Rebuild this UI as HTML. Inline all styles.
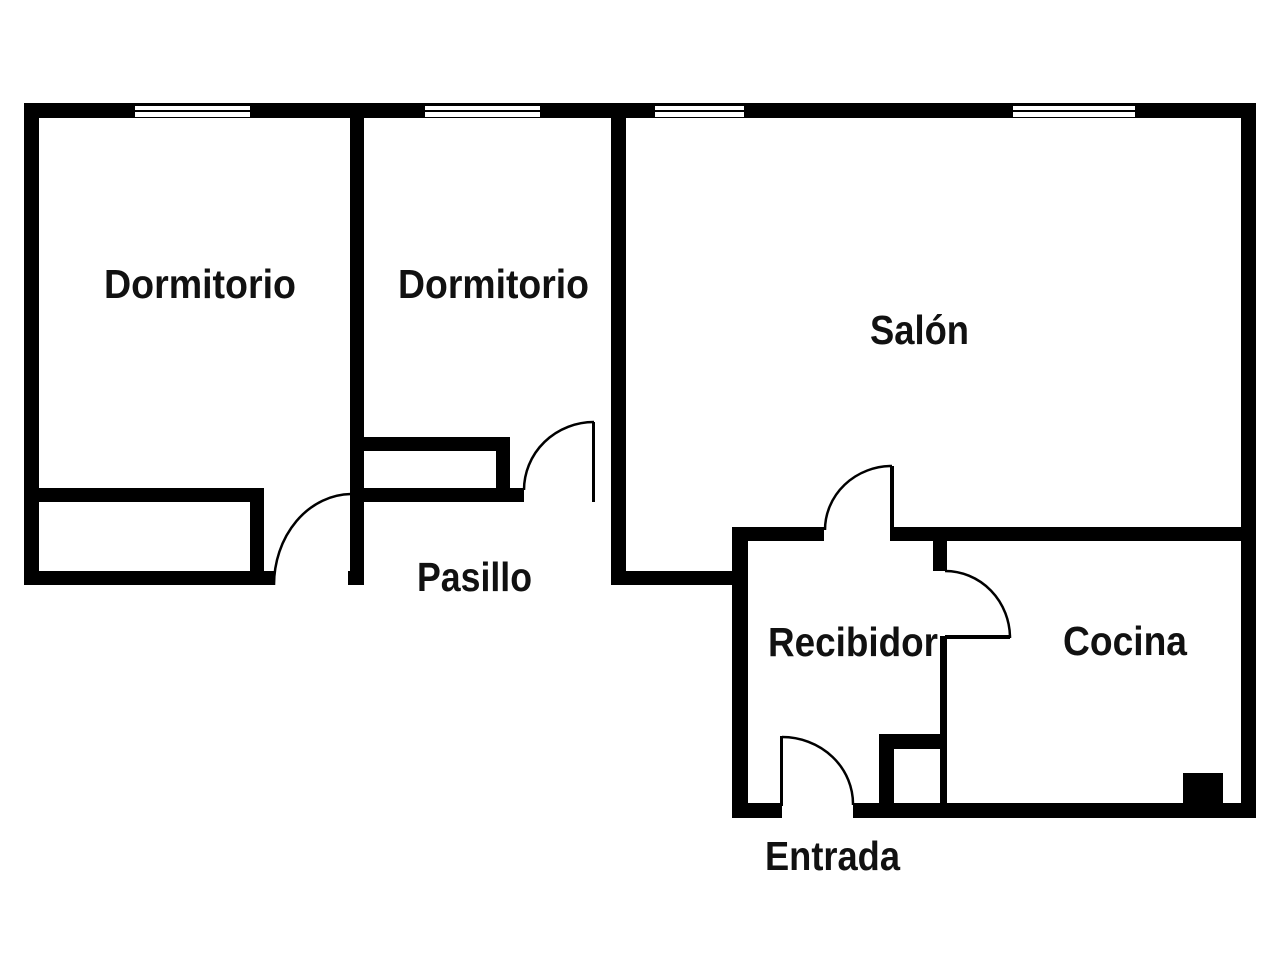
<!DOCTYPE html>
<html><head><meta charset="utf-8"><style>
html,body{margin:0;padding:0;background:#fff;}
svg{display:block;}
text{font-family:"Liberation Sans",sans-serif;font-weight:bold;font-size:41px;fill:#111;}
</style></head><body>
<svg width="1280" height="960" viewBox="0 0 1280 960" xmlns="http://www.w3.org/2000/svg">
<rect width="1280" height="960" fill="#fff"/>
<g fill="#000">
<rect x="24" y="103" width="1232" height="15"/>
<rect x="24" y="103" width="15" height="482"/>
<rect x="24" y="571" width="250" height="14"/>
<rect x="38" y="488" width="226" height="14"/>
<rect x="250" y="488" width="14" height="97"/>
<rect x="350" y="103" width="14" height="482"/>
<rect x="348" y="571" width="16" height="14"/>
<rect x="364" y="437" width="146" height="14"/>
<rect x="496" y="437" width="14" height="60"/>
<rect x="364" y="488" width="160" height="14"/>
<rect x="611" y="103" width="15" height="482"/>
<rect x="611" y="571" width="124" height="14"/>
<rect x="1241" y="103" width="15" height="715"/>
<rect x="732" y="527" width="16" height="291"/>
<rect x="732" y="527" width="92" height="14"/>
<rect x="890" y="527" width="366" height="14"/>
<rect x="933" y="541" width="14" height="30"/>
<rect x="940" y="636" width="7" height="182"/>
<rect x="732" y="803" width="50" height="15"/>
<rect x="853" y="803" width="403" height="15"/>
<rect x="879" y="734" width="68" height="15"/>
<rect x="879" y="734" width="15" height="75"/>
<rect x="1183" y="773" width="40" height="32"/>
<rect x="592" y="422" width="3" height="80"/>
<rect x="890" y="466" width="4" height="70"/>
<rect x="945" y="635" width="65" height="4"/>
<rect x="780" y="736" width="3" height="70"/>
</g>
<g>
<rect x="135" y="106" width="115" height="11" fill="#fff"/>
<rect x="425" y="106" width="115" height="11" fill="#fff"/>
<rect x="655" y="106" width="89" height="11" fill="#fff"/>
<rect x="1013" y="106" width="122" height="11" fill="#fff"/>
<g fill="#000">
<rect x="135" y="110" width="115" height="2"/>
<rect x="425" y="110" width="115" height="2"/>
<rect x="655" y="110" width="89" height="2"/>
<rect x="1013" y="110" width="122" height="2"/>
</g>
</g>
<g fill="none" stroke="#000" stroke-width="2.5">
<path d="M274,585 A78,91 0 0 1 351,494"/>
<path d="M524,490 A70,68 0 0 1 594,422"/>
<path d="M825,530 A67,64 0 0 1 892,466"/>
<path d="M945,571 A65,67 0 0 1 1010,638"/>
<path d="M782,737 A71,67 0 0 1 853,805"/>
</g>
<text x="104" y="298" textLength="192" lengthAdjust="spacingAndGlyphs">Dormitorio</text>
<text x="398" y="298" textLength="191" lengthAdjust="spacingAndGlyphs">Dormitorio</text>
<text x="870" y="344" textLength="99" lengthAdjust="spacingAndGlyphs">Salón</text>
<text x="417" y="591" textLength="115" lengthAdjust="spacingAndGlyphs">Pasillo</text>
<text x="768" y="656" textLength="170" lengthAdjust="spacingAndGlyphs">Recibidor</text>
<text x="1063" y="655" textLength="124" lengthAdjust="spacingAndGlyphs">Cocina</text>
<text x="765" y="870" textLength="135" lengthAdjust="spacingAndGlyphs">Entrada</text>
</svg>
</body></html>
